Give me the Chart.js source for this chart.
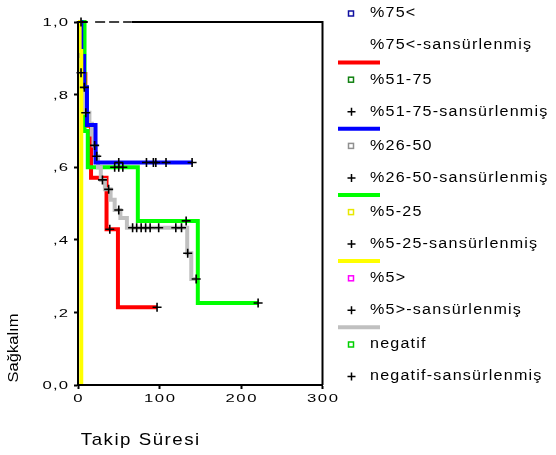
<!DOCTYPE html>
<html>
<head>
<meta charset="utf-8">
<title>Sağkalım</title>
<script src="https://cdn.jsdelivr.net/npm/chart.js@4.4.0/dist/chart.umd.min.js"></script>
<style>
  html, body { margin: 0; padding: 0; background: #fff; }
  #chart { display: block; }
</style>
</head>
<body>
<canvas id="chart" width="556" height="455"></canvas>
<script>
// survival steps (time, survival) and censored cases, per group
const redTimes = [0, 6, 9, 16, 35, 49, 97]
const redSurv = [1, 0.857, 0.714, 0.571, 0.429, 0.214, 0.214]
const redCensTimes = [39, 97]
const redCensSurv = [0.429, 0.214]

const blueTimes = [0, 4, 7.5, 11, 21.5, 141]
const blueSurv = [1, 0.906, 0.82, 0.716, 0.613, 0.613]
const blueCensTimes = [50, 84, 92.5, 95.5, 108, 140]
const blueCensSurv = [0.613, 0.613, 0.613, 0.613, 0.613, 0.613]

const greenTimes = [0, 8, 12, 73.4, 147, 221]
const greenSurv = [1, 0.7, 0.6, 0.452, 0.226, 0.226]
const greenCensTimes = [45, 50, 55, 132.7, 221]
const greenCensSurv = [0.6, 0.6, 0.6, 0.452, 0.226]

const grayTimes = [0, 1.5, 2.5, 3, 6, 8.5, 14, 17, 19, 22, 24.5, 28, 33, 40, 45, 52, 60, 134, 139, 145]
const graySurv = [1, 0.95, 0.9, 0.86, 0.82, 0.75, 0.72, 0.69, 0.66, 0.63, 0.6, 0.565, 0.539, 0.51, 0.482, 0.46, 0.433, 0.363, 0.292, 0.292]
const grayCensTimes = [3.7, 7.8, 9.5, 20.4, 23, 30, 37.6, 50, 67, 72, 77.5, 83, 88.5, 99, 120, 127, 134.6, 145]
const grayCensSurv = [0.86, 0.82, 0.75, 0.66, 0.63, 0.565, 0.539, 0.482, 0.433, 0.433, 0.433, 0.433, 0.433, 0.433, 0.433, 0.433, 0.363, 0.292]

const yellowTimes = [0, 2, 4]
const yellowSurv = [1, 0.92, 0]

const pinkCensTimes = [3.7]
const pinkCensSurv = [1]

const xTickValues = [0, 100, 200, 300]
const xTickLabels = ['0', '100', '200', '300']
const yTickValues = [0, 0.2, 0.4, 0.6, 0.8, 1]
const yTickLabels = ['0,0', ',2', ',4', ',6', ',8', '1,0']

const groupLabels = ['%75<', '%51-75', '%26-50', '%5-25', '%5>', 'negatif']
const censSuffix = '-sansürlenmiş'
const markerColors = ['#1010a0', '#108010', '#909090', '#e8e800', '#ff00ff', '#00d000']
const legendLineColors = ['#ff0000', '#0000ff', '#00ff00', '#ffff00', '#c0c0c0', null]

const xTitle = 'Takip Süresi'
const yTitle = 'Sağkalım'

const fontFamily = '"Liberation Sans", Arial, sans-serif'

function toPoints(times, surv) {
  var pts = []
  for (var i = 0; i < times.length; i++) {
    pts.push({ x: times[i], y: surv[i] })
  }
  return pts
}

function stepSet(label, times, surv, color, order) {
  return {
    label: label,
    data: toPoints(times, surv),
    borderColor: color,
    backgroundColor: color,
    borderWidth: 4,
    borderJoinStyle: 'miter',
    stepped: true,
    pointRadius: 0,
    fill: false,
    clip: false,
    order: order
  }
}

function censSet(label, times, surv) {
  return {
    label: label,
    data: toPoints(times, surv),
    showLine: false,
    pointStyle: 'cross',
    pointRadius: 4.5,
    pointBorderColor: '#000',
    pointBorderWidth: 1.6,
    borderColor: '#000',
    clip: false,
    order: 0
  }
}

function drawText(ctx, str, x, y, o) {
  var sp = (o.spacing || 0) / o.stretch
  ctx.save()
  ctx.font = o.size + 'px ' + fontFamily
  ctx.letterSpacing = sp + 'px'
  ctx.textAlign = 'left'
  ctx.textBaseline = 'middle'
  ctx.fillStyle = '#000'
  var w = ctx.measureText(str).width - sp
  var anchor = o.align === 'center' ? 0.5 : o.align === 'right' ? 1 : 0
  ctx.translate(x, y)
  if (o.rotate) ctx.rotate(o.rotate)
  ctx.scale(o.stretch, 1)
  ctx.fillText(str, -w * anchor, 0)
  ctx.restore()
}

const decorPlugin = {
  id: 'decor',
  afterDraw: function (chart) {
    var ctx = chart.ctx
    var area = chart.chartArea
    var xs = chart.scales.x
    var ys = chart.scales.y

    // frame top and right
    ctx.save()
    ctx.strokeStyle = '#000'
    ctx.lineWidth = 2
    ctx.beginPath()
    ctx.moveTo(area.left, area.top)
    ctx.lineTo(xs.getPixelForValue(12), area.top)
    ctx.moveTo(xs.getPixelForValue(66), area.top)
    ctx.lineTo(area.right, area.top)
    ctx.lineTo(area.right, area.bottom)
    ctx.stroke()
    ctx.setLineDash([10, 4])
    ctx.strokeStyle = '#444'
    ctx.beginPath()
    ctx.moveTo(xs.getPixelForValue(21), area.top)
    ctx.lineTo(xs.getPixelForValue(66), area.top)
    ctx.stroke()
    ctx.restore()

    // tick labels
    for (var i = 0; i < xTickValues.length; i++) {
      drawText(ctx, xTickLabels[i], xs.getPixelForValue(xTickValues[i]), 399,
        { size: 11.5, stretch: 1.45, spacing: 1.6, align: 'center' })
    }
    for (var j = 0; j < yTickValues.length; j++) {
      drawText(ctx, yTickLabels[j], 68, ys.getPixelForValue(yTickValues[j]) + 1,
        { size: 11.5, stretch: 1.45, spacing: 1.2, align: 'right' })
    }

    // axis titles
    drawText(ctx, xTitle, 140, 440, { size: 17, stretch: 1.1, spacing: 1.5, align: 'center' })
    drawText(ctx, yTitle, 14, 348, { size: 15, stretch: 1.1, spacing: 0, align: 'center', rotate: -Math.PI / 2 })

    // legend
    for (var g = 0; g < groupLabels.length; g++) {
      var base = 13.5 + 66.2 * g
      ctx.save()
      ctx.lineWidth = 1.5
      ctx.strokeStyle = markerColors[g]
      ctx.strokeRect(348.5, base - 2.5, 5, 5)
      ctx.restore()
      drawText(ctx, groupLabels[g], 370, base, { size: 14, stretch: 1.15, spacing: 1.2 })

      var cy = base + 32
      if (g > 0) {
        ctx.save()
        ctx.strokeStyle = '#000'
        ctx.lineWidth = 1.5
        ctx.beginPath()
        ctx.moveTo(347.5, cy)
        ctx.lineTo(355.5, cy)
        ctx.moveTo(351.5, cy - 4)
        ctx.lineTo(351.5, cy + 4)
        ctx.stroke()
        ctx.restore()
      }
      drawText(ctx, groupLabels[g] + censSuffix, 370, cy, { size: 14, stretch: 1.15, spacing: 1.2 })

      if (legendLineColors[g]) {
        ctx.save()
        ctx.strokeStyle = legendLineColors[g]
        ctx.lineWidth = 4
        ctx.beginPath()
        ctx.moveTo(338, base + 49)
        ctx.lineTo(380, base + 49)
        ctx.stroke()
        ctx.restore()
      }
    }
  }
}

var ctx = document.getElementById('chart')

var chart = new Chart(ctx, {
  type: 'line',
  data: {
    datasets: [
      censSet(groupLabels[0] + censSuffix, redCensTimes, redCensSurv),
      censSet(groupLabels[1] + censSuffix, blueCensTimes, blueCensSurv),
      censSet(groupLabels[2] + censSuffix, grayCensTimes, grayCensSurv),
      censSet(groupLabels[4] + censSuffix, pinkCensTimes, pinkCensSurv),
      censSet(groupLabels[5] + censSuffix, greenCensTimes, greenCensSurv),
      stepSet(groupLabels[3], yellowTimes, yellowSurv, '#ffff00', 1),
      stepSet(groupLabels[1], blueTimes, blueSurv, '#0000ff', 2),
      stepSet(groupLabels[2], grayTimes, graySurv, '#c0c0c0', 3),
      stepSet(groupLabels[5], greenTimes, greenSurv, '#00ff00', 4),
      stepSet(groupLabels[0], redTimes, redSurv, '#ff0000', 5)
    ]
  },
  options: {
    responsive: false,
    animation: false,
    devicePixelRatio: 1,
    layout: { padding: { left: 0, right: 233.5, top: 22, bottom: 0 } },
    plugins: {
      legend: { display: false },
      tooltip: { enabled: false }
    },
    scales: {
      x: {
        type: 'linear',
        min: 0,
        max: 300,
        afterBuildTicks: function (scale) {
          scale.ticks = xTickValues.map(function (v) { return { value: v } })
        },
        afterFit: function (scale) { scale.height = 70 },
        ticks: { display: false },
        grid: { drawOnChartArea: false, drawTicks: true, tickLength: 4, tickWidth: 2, tickColor: '#000' },
        border: { display: true, color: '#000', width: 2, z: 1 }
      },
      y: {
        min: 0,
        max: 1,
        afterBuildTicks: function (scale) {
          scale.ticks = yTickValues.map(function (v) { return { value: v } })
        },
        afterFit: function (scale) { scale.width = 78 },
        ticks: { display: false },
        grid: { drawOnChartArea: false, drawTicks: true, tickLength: 4, tickWidth: 2, tickColor: '#000' },
        border: { display: true, color: '#000', width: 2, z: 1 }
      }
    }
  },
  plugins: [decorPlugin]
})
</script>
</body>
</html>
